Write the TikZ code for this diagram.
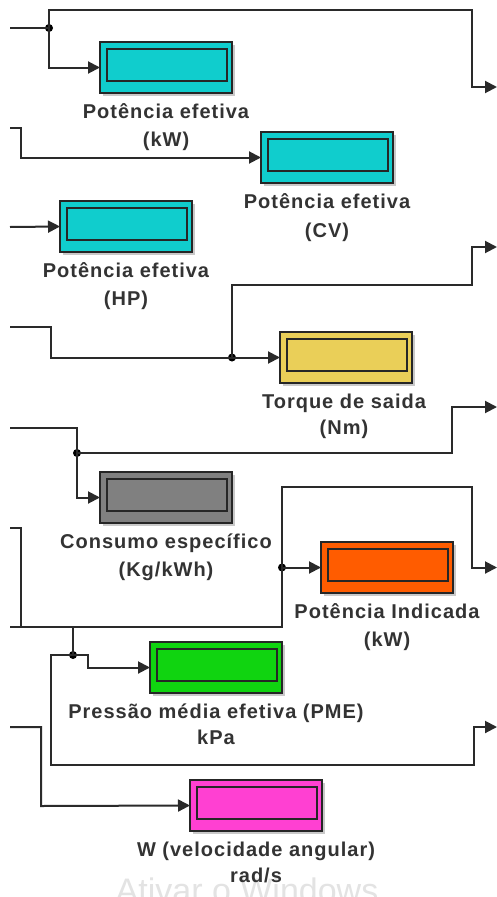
\documentclass[tikz,border=0pt]{standalone}
\usepackage{fontspec}
\newfontfamily\labfont[LetterSpace=5.0]{Liberation Sans}
\newfontfamily\wmfont{Liberation Sans}
\usetikzlibrary{arrows.meta,shadows,calc}
\definecolor{wirec}{HTML}{2A2A2A}
\definecolor{txtc}{HTML}{333333}
\definecolor{cyanblk}{HTML}{10CDCD}
\definecolor{yelblk}{HTML}{EACF58}
\definecolor{grayblk}{HTML}{808080}
\definecolor{orablk}{HTML}{FF5C00}
\definecolor{grnblk}{HTML}{10D410}
\definecolor{magblk}{HTML}{FF40D2}
\begin{document}
\begin{tikzpicture}[x=1pt,y=-1pt,
  wire/.style={draw=wirec, line width=2pt},
  sig/.style={wire, -{Triangle[length=12pt,width=12pt]}},
  blk/.style={draw=black!85, line width=1.8pt, minimum width=132pt, minimum height=51pt,
    inner sep=0pt, outer sep=0pt, anchor=north west,
    drop shadow={shadow xshift=2.5pt, shadow yshift=-2.5pt, opacity=0.35, fill=black!60}},
  inr/.style={draw=black!85, line width=1.8pt, minimum width=120pt, minimum height=32pt,
    inner sep=0pt, anchor=north west},
  dot/.style={circle, fill=black, inner sep=0pt, minimum size=8pt},
  lab/.style={font=\labfont\bfseries\fontsize{20}{22}\selectfont, text=txtc, anchor=base, inner sep=0pt}
]
\useasboundingbox (0,0) rectangle (497,897);
\fill[white] (0,0) rectangle (497,897);

% watermark
\node[font=\wmfont\fontsize{34}{34}\selectfont, text=black!11, anchor=base, inner sep=0pt] (wm) at (247,902) {Ativar o Windows};

% blocks
\node[blk, fill=cyanblk] (kW) at (100,42) {};
\node[inr] (kWi) at ($(kW.north west)+(6,6)$) {};
\node[blk, fill=cyanblk] (CV) at (261,132) {};
\node[inr] (CVi) at ($(CV.north west)+(6,6)$) {};
\node[blk, fill=cyanblk] (HP) at (60,201) {};
\node[inr] (HPi) at ($(HP.north west)+(6,6)$) {};
\node[blk, fill=yelblk] (TQ) at (280,332) {};
\node[inr] (TQi) at ($(TQ.north west)+(6,6)$) {};
\node[blk, fill=grayblk] (CE) at (100,472) {};
\node[inr] (CEi) at ($(CE.north west)+(6,6)$) {};
\node[blk, fill=orablk] (PI) at (321,542) {};
\node[inr] (PIi) at ($(PI.north west)+(6,6)$) {};
\node[blk, fill=grnblk] (PME) at (150,642) {};
\node[inr] (PMEi) at ($(PME.north west)+(6,6)$) {};
\node[blk, fill=magblk] (W) at (190,780) {};
\node[inr] (Wi) at ($(W.north west)+(6,6)$) {};

% labels
\node[lab] (kWa) at ($(kW.south)+(0,25)$) {Potência efetiva};
\node[lab] (kWb) at ($(kW.south)+(0,53)$) {(kW)};
\node[lab] (CVa) at ($(CV.south)+(0,25)$) {Potência efetiva};
\node[lab] (CVb) at ($(CV.south)+(0,54)$) {(CV)};
\node[lab] (HPa) at ($(HP.south)+(0,25)$) {Potência efetiva};
\node[lab] (HPb) at ($(HP.south)+(0,53)$) {(HP)};
\node[lab] (TQa) at ($(TQ.south)+(-2,25)$) {Torque de saida};
\node[lab] (TQb) at ($(TQ.south)+(-2,51)$) {(Nm)};
\node[lab] (CEa) at ($(CE.south)+(0,25)$) {Consumo específico};
\node[lab] (CEb) at ($(CE.south)+(0,53)$) {(Kg/kWh)};
\node[lab] (PIa) at ($(PI.south)+(0,25)$) {Potência Indicada};
\node[lab] (PIb) at ($(PI.south)+(0,53)$) {(kW)};
\node[lab] (PMEa) at ($(PME.south)+(0,25)$) {Pressão média efetiva (PME)};
\node[lab] (PMEb) at ($(PME.south)+(0,51)$) {kPa};
\node[lab] (Wa) at ($(W.south)+(0,25)$) {W (velocidade angular)};
\node[lab] (Wb) at ($(W.south)+(0,51)$) {rad/s};

% junctions
\node[dot] (J1) at (49,28) {};
\node[dot] (J4) at (232,357.5) {};
\node[dot] (J5) at (77,453) {};
\node[dot] (J6) at (282,567.5) {};
\node[dot] (J7) at (73,655) {};

% free ends and bends
\coordinate (i1) at (10,28);
\coordinate (b1) at (472,10);
\coordinate (o1) at (497,87);
\coordinate (i2) at (10,128);
\coordinate (b2) at (21,157.5);
\coordinate (i3) at (10,227);
\coordinate (i4) at (10,327);
\coordinate (b4) at (51,357.5);
\coordinate (b4b) at (472,285);
\coordinate (o4) at (497,247);
\coordinate (i5) at (10,428);
\coordinate (b5) at (452,407);
\coordinate (o5) at (497,407);
\coordinate (i6a) at (10,528);
\coordinate (b6a) at (21,627);
\coordinate (i6b) at (10,627);
\coordinate (b6) at (472,487);
\coordinate (o6) at (497,567.5);
\coordinate (t7) at (73,627);
\coordinate (b7) at (88,667.5);
\coordinate (b7b) at (51,765);
\coordinate (b7c) at (474,727);
\coordinate (o7) at (497,727);
\coordinate (i8) at (10,727);
\coordinate (b8) at (41,806);

% connectors
\draw[wire] (i1) -- (J1.center);
\draw[sig] (J1.center) |- (kW.west);
\draw[sig] (J1.center) |- (b1) |- (o1);

\draw[sig] (i2) -| (b2) -- (CV.west);
\draw[sig] (i3) -- (HP.west);

\draw[wire] (i4) -| (b4) -- (J4.center);
\draw[sig] (J4.center) -- (TQ.west);
\draw[sig] (J4.center) |- (b4b) |- (o4);

\draw[wire] (i5) -| (J5.center);
\draw[sig] (J5.center) |- (CE.west);
\draw[sig] (J5.center) -| (b5) -- (o5);

\draw[wire] (i6a) -| (b6a);
\draw[wire] (i6b) -| (J6.center);
\draw[sig] (J6.center) -- (PI.west);
\draw[sig] (J6.center) |- (b6) |- (o6);

\draw[wire] (t7) -- (J7.center);
\draw[sig] (J7.center) -| (b7) -- (PME.west);
\draw[sig] (J7.center) -| (b7b) -| (b7c) -- (o7);

\draw[sig] (i8) -| (b8) -- (W.west);
\end{tikzpicture}
\end{document}
